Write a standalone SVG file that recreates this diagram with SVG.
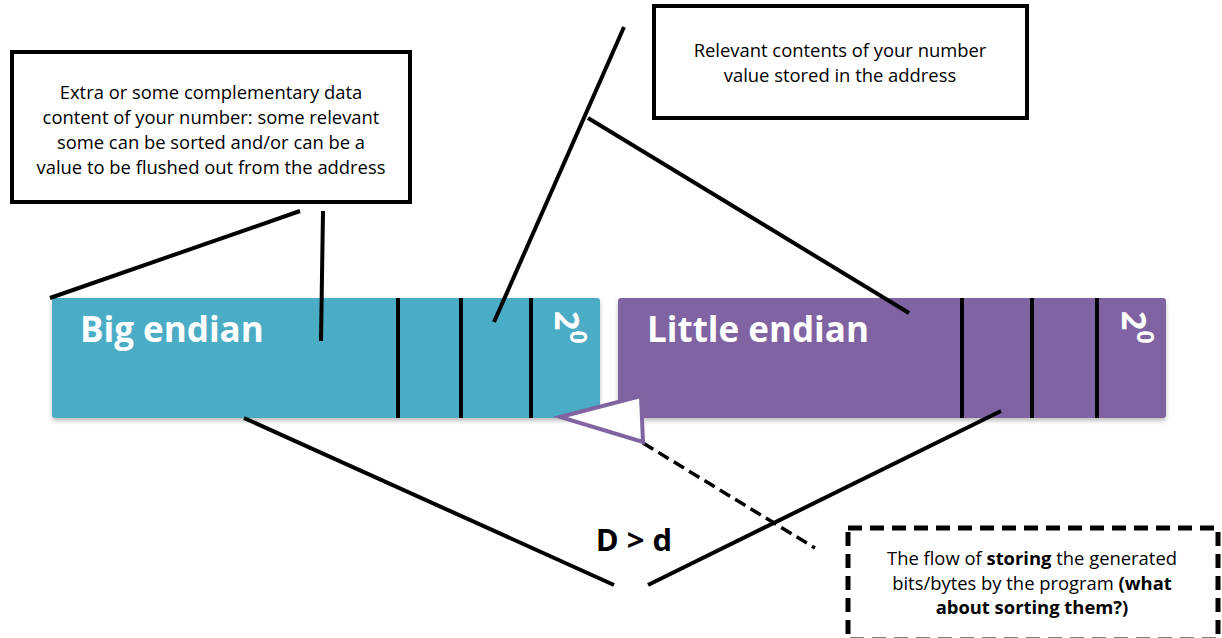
<svg xmlns="http://www.w3.org/2000/svg" width="1222" height="638" viewBox="0 0 1222 638">
<style>
.box{fill:#fff;stroke:#000;stroke-width:4}
.t{font-family:"Open Sans","Liberation Sans",sans-serif;font-size:18.4px;fill:#000;text-anchor:middle}
.lbl{font-family:"Open Sans","Liberation Sans",sans-serif;font-size:35px;font-weight:bold;fill:#fff}
.sup{font-family:"Open Sans","Liberation Sans",sans-serif;font-weight:bold;fill:#fff}
.ln{stroke:#000;stroke-width:4;fill:none}
.div{stroke:#000;stroke-width:4}
</style>
<defs>
<filter id="sh" x="-5%" y="-10%" width="110%" height="130%"><feDropShadow dx="0" dy="3" stdDeviation="2" flood-opacity="0.25"/></filter>
</defs>
<g id="big-endian">
<rect x="52" y="298" width="548" height="120" rx="3" fill="#4BACC6" filter="url(#sh)"/>
<line class="div" x1="398" y1="298" x2="398" y2="418"/>
<line class="div" x1="461" y1="298" x2="461" y2="418"/>
<line class="div" x1="531" y1="298" x2="531" y2="418"/>
<text class="lbl" x="80" y="342">Big endian</text>
<text class="sup" transform="translate(555,311) rotate(90)" font-size="34">2<tspan font-size="23" dy="-15">0</tspan></text>
</g>
<g id="little-endian">
<rect x="618" y="298" width="548" height="120" rx="3" fill="#8064A2" filter="url(#sh)"/>
<line class="div" x1="962" y1="298" x2="962" y2="418"/>
<line class="div" x1="1032" y1="298" x2="1032" y2="418"/>
<line class="div" x1="1097" y1="298" x2="1097" y2="418"/>
<text class="lbl" x="647" y="342">Little endian</text>
<text class="sup" transform="translate(1122,311) rotate(90)" font-size="34">2<tspan font-size="23" dy="-15">0</tspan></text>
</g>
<g id="callout-extra">
<rect class="box" x="12" y="52" width="398" height="150"/>
<text class="t" x="211" y="99">Extra or some complementary data</text>
<text class="t" x="211" y="124">content of your number: some relevant</text>
<text class="t" x="211" y="149">some can be sorted and/or can be a</text>
<text class="t" x="211" y="174">value to be flushed out from the address</text>
</g>
<g id="callout-relevant">
<rect class="box" x="654" y="6" width="373" height="112"/>
<text class="t" x="840" y="57">Relevant contents of your number</text>
<text class="t" x="840" y="82">value stored in the address</text>
</g>
<g id="callout-flow">
<rect x="848" y="528" width="370" height="112" fill="#fff" stroke="#000" stroke-width="5" stroke-dasharray="14 8"/>
<text class="t" x="1032" y="565">The flow of <tspan font-weight="bold">storing</tspan> the generated</text>
<text class="t" x="1032" y="590">bits/bytes by the program <tspan font-weight="bold">(what</tspan></text>
<text class="t" x="1032" y="614" font-weight="bold">about sorting them?)</text>
</g>
<g id="compare-label">
<text x="634" y="551" font-family="Open Sans, Liberation Sans, sans-serif" font-size="31" font-weight="bold" text-anchor="middle">D &gt; d</text>
</g>
<g id="connectors">
<line class="ln" x1="50" y1="298" x2="300" y2="211"/>
<line class="ln" x1="323" y1="211" x2="321" y2="341"/>
<line class="ln" x1="624" y1="27" x2="494" y2="322"/>
<line class="ln" x1="588" y1="118" x2="909" y2="313"/>
<line class="ln" x1="244" y1="418" x2="614" y2="585"/>
<line class="ln" x1="648" y1="585" x2="1001" y2="411"/>
<line x1="643" y1="443" x2="815" y2="548" stroke="#000" stroke-width="3.5" stroke-dasharray="12 6"/>
<polygon points="560,417 641,396 643,442" fill="#fff" stroke="#8064A2" stroke-width="4" stroke-linejoin="miter"/>
</g>
</svg>
